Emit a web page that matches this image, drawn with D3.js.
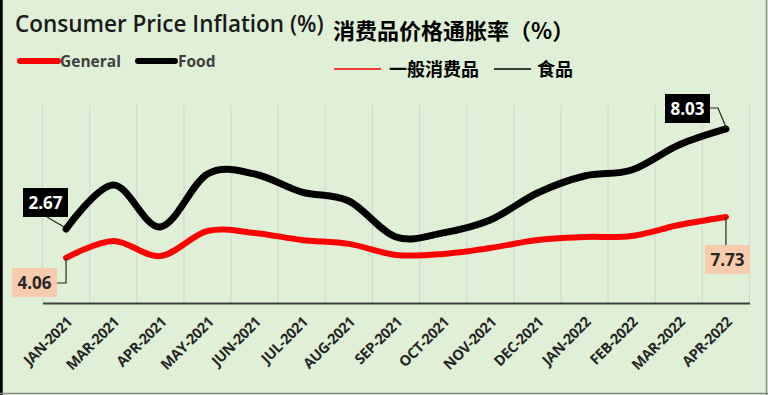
<!DOCTYPE html>
<html>
<head>
<meta charset="utf-8">
<script src="https://cdn.jsdelivr.net/npm/d3@7"></script>
<style>
  html, body { margin: 0; padding: 0; background: #dff0d7; }
  svg { display: block; }
</style>
</head>
<body>
<svg id="chart"></svg>
<script>
// ---- data ----
const months = ['JAN-2021','MAR-2021','APR-2021','MAY-2021','JUN-2021','JUL-2021','AUG-2021',
  'SEP-2021','OCT-2021','NOV-2021','DEC-2021','JAN-2022','FEB-2022','MAR-2022','APR-2022'];
const general = [1.12, 2.03, 1.22, 2.56, 2.46, 2.08, 1.87, 1.28, 1.33, 1.65, 2.08, 2.24, 2.29, 2.88, 3.31];
const food    = [2.67, 5.03, 2.78, 5.62, 5.62, 4.65, 4.17, 2.24, 2.46, 3.15, 4.60, 5.51, 5.83, 7.17, 8.03];
// data labels shown at the ends (as printed in the source)
const generalLabels = ['4.06', '7.73'];
const foodLabels = ['2.67', '8.03'];

const W = 768, H = 395;
const bg = '#dff0d7';
const svg = d3.select('#chart').attr('width', W).attr('height', H);

svg.append('rect').attr('width', W).attr('height', H).attr('fill', bg);

const x = d3.scaleBand().domain(months).range([42.5, 749.5]).padding(0);
const y = d3.scaleLinear().domain([0, 10]).range([278.8, 92.2]);
const cx = m => x(m) + x.bandwidth() / 2;
const plotTop = 105, plotBottom = 303;

// vertical gridlines at band edges
const edges = months.map(m => x(m)).concat([x.range()[1]]);
svg.append('g').selectAll('line').data(edges).join('line')
  .attr('x1', d => d).attr('x2', d => d)
  .attr('y1', plotTop).attr('y2', plotBottom)
  .attr('stroke', '#d6d6d6').attr('stroke-width', 1.2);

// x axis
const xAxis = svg.append('g')
  .attr('transform', `translate(0,${plotBottom})`)
  .call(d3.axisBottom(x).tickSize(0).tickPadding(0));
xAxis.select('.domain').attr('stroke', '#404040').attr('stroke-width', 2);
xAxis.selectAll('text')
  .attr('font-family', 'Open Sans, sans-serif')
  .attr('font-weight', 700)
  .attr('font-size', 14.5)
  .attr('letter-spacing', -0.4)
  .attr('fill', '#262626')
  .attr('text-anchor', 'end')
  .attr('dy', 0)
  .attr('transform', 'translate(7,20) rotate(-45)');

// lines
const line = d3.line()
  .x((d, i) => cx(months[i]))
  .y(d => y(d))
  .curve(d3.curveCardinal.tension(0));

svg.append('path').datum(general)
  .attr('d', line).attr('fill', 'none')
  .attr('stroke', '#ff0000').attr('stroke-width', 6)
  .attr('stroke-linecap', 'round').attr('stroke-linejoin', 'round');

svg.append('path').datum(food)
  .attr('d', line).attr('fill', 'none')
  .attr('stroke', '#000').attr('stroke-width', 7)
  .attr('stroke-linecap', 'round').attr('stroke-linejoin', 'round');

// data labels with leader lines
const last = months.length - 1;
function label(bx, by, text, fill, color, leader) {
  svg.append('path').attr('d', leader).attr('fill', 'none')
    .attr('stroke', '#262626').attr('stroke-width', 1.2);
  svg.append('rect').attr('x', bx).attr('y', by).attr('width', 45).attr('height', 29)
    .attr('fill', fill);
  svg.append('text').attr('x', bx + 22.5).attr('y', by + 20.5)
    .attr('text-anchor', 'middle')
    .attr('font-family', 'Open Sans, sans-serif').attr('font-weight', 700)
    .attr('font-size', 17).attr('fill', color).text(text);
}
const f0 = [cx(months[0]), y(food[0])], fN = [cx(months[last]), y(food[last])];
const g0 = [cx(months[0]), y(general[0])], gN = [cx(months[last]), y(general[last])];
label(23, 188, foodLabels[0], '#000', '#fff', `M47,217 L${f0[0] - 2},${f0[1] - 2}`);
label(12, 268, generalLabels[0], '#f8cbad', '#262626', `M${g0[0]},${g0[1]} L${g0[0]},283 L57,283`);
label(665, 94, foodLabels[1], '#000', '#fff', `M709,108 L718,108 L${fN[0]},${fN[1] - 2}`);
label(705, 245, generalLabels[1], '#f8cbad', '#262626', `M${gN[0]},${gN[1]} L${gN[0]},245`);

// titles
svg.append('text').attr('x', 15).attr('y', 32)
  .attr('font-family', 'Open Sans, sans-serif').attr('font-weight', 600)
  .attr('font-size', 22.5).attr('fill', '#1a1a1a')
  .text('Consumer Price Inflation (%)');
svg.append('text').attr('x', 333).attr('y', 39)
  .attr('font-family', 'Noto Sans CJK SC, sans-serif').attr('font-weight', 700)
  .attr('font-size', 22).attr('fill', '#000')
  .text('消费品价格通胀率（%）');

// english legend
const legEn = [
  {name: 'General', color: '#ff0000', x1: 20, x2: 58, tx: 60},
  {name: 'Food', color: '#000', x1: 138, x2: 175, tx: 178}
];
legEn.forEach(d => {
  svg.append('line').attr('x1', d.x1).attr('x2', d.x2).attr('y1', 61).attr('y2', 61)
    .attr('stroke', d.color).attr('stroke-width', 6).attr('stroke-linecap', 'round');
  svg.append('text').attr('x', d.tx).attr('y', 66.5)
    .attr('font-family', 'Open Sans, sans-serif').attr('font-weight', 700)
    .attr('font-size', 15.5).attr('fill', '#404040').text(d.name);
});

// chinese legend
const legZh = [
  {name: '一般消费品', color: '#ff0000', x1: 334, x2: 381, tx: 389},
  {name: '食品', color: '#000', x1: 494, x2: 531, tx: 537}
];
legZh.forEach(d => {
  svg.append('line').attr('x1', d.x1).attr('x2', d.x2).attr('y1', 69).attr('y2', 69)
    .attr('stroke', d.color).attr('stroke-width', 1.5);
  svg.append('text').attr('x', d.tx).attr('y', 75.5)
    .attr('font-family', 'Noto Sans CJK SC, sans-serif').attr('font-weight', 700)
    .attr('font-size', 18).attr('fill', '#000').text(d.name);
});

// frame edges
svg.append('rect').attr('x', 0).attr('y', 0).attr('width', 2.7).attr('height', H).attr('fill', '#000');
svg.append('line').attr('x1', 766.5).attr('x2', 766.5).attr('y1', 0).attr('y2', H)
  .attr('stroke', '#8a8a8a').attr('stroke-width', 1.5);
svg.append('line').attr('x1', 0).attr('x2', W).attr('y1', 393.5).attr('y2', 393.5)
  .attr('stroke', '#8a8a8a').attr('stroke-width', 1.5);
</script>
</body>
</html>
